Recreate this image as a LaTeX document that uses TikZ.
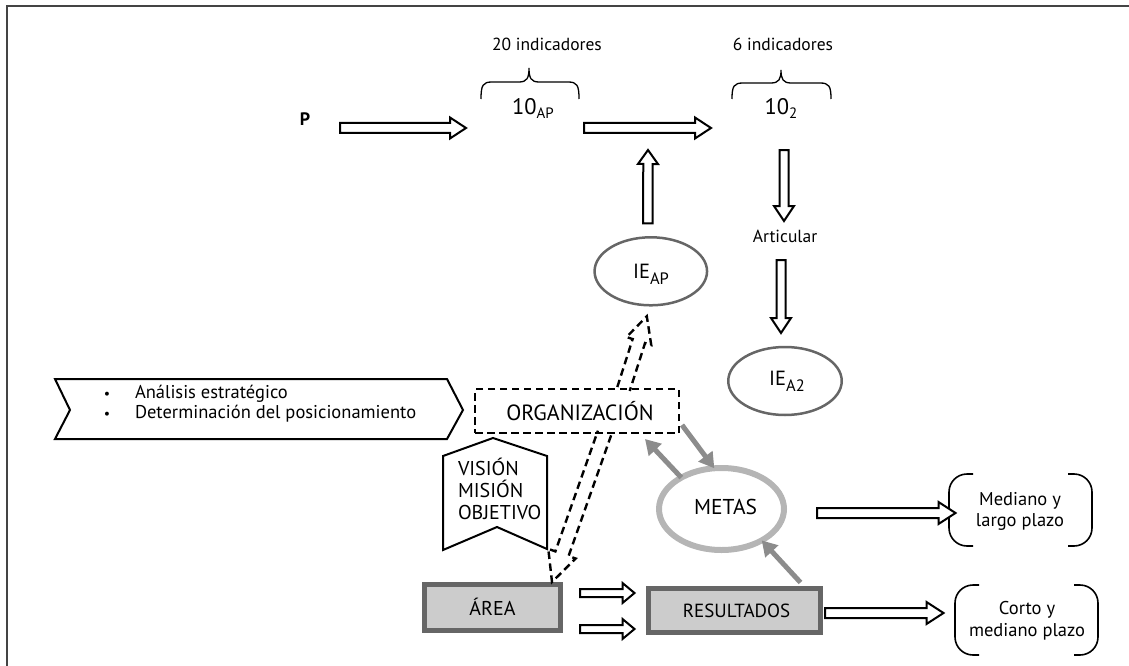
\documentclass[tikz,border=0pt]{standalone}
\usepackage{fontspec}
\setmainfont{PT Sans}
\usetikzlibrary{calc,shapes.geometric,arrows.meta}
\definecolor{framegray}{HTML}{444444}
\definecolor{ellgray}{HTML}{666666}
\definecolor{boxborder}{HTML}{666666}
\definecolor{boxfill}{HTML}{CCCCCC}
\definecolor{arrgray}{HTML}{8C8C8C}
\definecolor{metasgray}{HTML}{B5B5B5}
\newcommand\fs[1]{\fontsize{#1}{#1}\selectfont}
\newcommand\lowsub[3]{\raisebox{-#1pt}{\fontsize{#2}{#2}\selectfont #3}}
% #1 style, #2 start, #3 tip, #4 shaft half width, #5 head half width, #6 head length
\newcommand\arrowpath[6]{%
  \coordinate (hb) at ($(#3)!#6!(#2)$);
  \path[#1] ($(#2)!#4!90:(#3)$) -- ($(hb)!#4!90:(#3)$) -- ($(hb)!#5!90:(#3)$) -- (#3)
    -- ($(hb)!#5!-90:(#3)$) -- ($(hb)!#4!-90:(#3)$) -- ($(#2)!#4!-90:(#3)$)}
\newcommand\blockarrow[6]{\arrowpath{#1}{#2}{#3}{#4}{#5}{#6} -- cycle;}
\newcommand\openarrow[6]{\arrowpath{#1}{#2}{#3}{#4}{#5}{#6};}
\newcommand\brackets[1]{%
  \draw[brk] ([xshift=24pt]#1.north west) -- (#1.north west) -- (#1.south west) -- ([xshift=24pt]#1.south west);
  \draw[brk] ([xshift=-24pt]#1.north east) -- (#1.north east) -- (#1.south east) -- ([xshift=-24pt]#1.south east);}
\begin{document}
\begin{tikzpicture}[x=1pt,y=-1pt,
  every node/.style={inner sep=0pt, outer sep=0pt},
  txt/.style={anchor=base},
  blk/.style={draw=black, line width=2pt, fill=white},
  dsh/.style={draw=black, line width=2.4pt, dash pattern=on 7.5pt off 4.5pt},
  ell/.style={ellipse, draw=ellgray, line width=2.5pt},
  gbox/.style={rectangle, draw=boxborder, fill=boxfill, line width=5pt},
  garr/.style={draw=arrgray, line width=5pt, -{Triangle[width=17pt,length=15pt]}},
  brk/.style={line width=1.6pt, rounded corners=18pt},
  brace/.style={line width=1.3pt}]
\useasboundingbox (0,0) rectangle (1129,666);
% frame
\draw[line width=2pt, framegray] (6.5,666) -- (6.5,6) -- (1129,6);

% top row
\node[txt, font=\bfseries\fs{18}] (P) at (305,125) {P};
\node[txt, font=\fs{17.5}] (ind1) at (547,51) {20 indicadores};
\node[txt, font=\fs{22.5}] (ten1) at (533,115) {10\lowsub{3.5}{15}{AP}};
\node[txt, font=\fs{17.5}] (ind2) at (783,51) {6 indicadores};
\node[txt, font=\fs{22.5}] (ten2) at (781,115) {10\lowsub{4}{15}{2}};
\draw[brace] (481,99) .. controls (481,85) and (483,82) .. (492,82) -- (519,82)
  .. controls (527,82) and (529,78) .. (529,68) .. controls (529,78) and (531,82) .. (539,82)
  -- (568,82) .. controls (577,82) and (579,85) .. (579,99);
\draw[brace] (732,99) .. controls (732,86) and (734,83) .. (743,83) -- (771,83)
  .. controls (779,83) and (781,79) .. (781,70) .. controls (781,79) and (783,83) .. (791,83)
  -- (820,83) .. controls (829,83) and (831,86) .. (831,99);

\coordinate (a1s) at (340,128);
\coordinate (a1e) at (466,128);
\blockarrow{blk}{a1s}{a1e}{5pt}{10.5pt}{16pt}
\coordinate (a2s) at (584,128);
\coordinate (a2e) at (711,128);
\blockarrow{blk}{a2s}{a2e}{5pt}{10.5pt}{16pt}

% IE_AP
\node[ell, minimum width=112.5pt, minimum height=68pt] (ieap) at (650.8,271.3) {};
\node[txt, font=\fs{20.5}] (ieapt) at (651,278) {IE\lowsub{6}{16.5}{AP}};
\coordinate (u1s) at ($(ieap.north)+(-3,-14)$);
\coordinate (u1e) at (648,150);
\blockarrow{blk}{u1s}{u1e}{4.7pt}{10pt}{14pt}

% right column
\coordinate (d1s) at (784,150);
\coordinate (d1e) at (784,221);
\blockarrow{blk}{d1s}{d1e}{4.5pt}{10pt}{15pt}
\node[txt, font=\fs{17.5}] (art) at (785,242.5) {Articular};
\coordinate (d2s) at (781,260);
\coordinate (d2e) at (781,333);
\blockarrow{blk}{d2s}{d2e}{4.5pt}{10pt}{15pt}
\node[ell, minimum width=113.5pt, minimum height=68pt] (iea2) at (785,381) {};
\node[txt, font=\fs{20.5}] (iea2t) at (787,385) {IE\lowsub{6}{16.5}{A2}};

% chevron with bullets
\draw[line width=2pt] (55,379) -- (447,379) -- (463,410) -- (447,439) -- (55,439) -- (70,410) -- cycle;
\node[txt, font=\fs{14}] (b1) at (107,398.5) {•};
\node[txt, font=\fs{14}] (b2) at (107,418) {•};
\node[anchor=base west, font=\fs{18.5}] (l1) at (135,398.5) {Análisis estratégico};
\node[anchor=base west, font=\fs{18.5}] (l2) at (135,418) {Determinación del posicionamiento};

% organizacion
\node[dsh, rectangle, minimum width=204pt, minimum height=44pt] (org) at (577,411) {};
\node[txt, font=\fs{22}] (orgt) at (580,420) {ORGANIZACIÓN};

% vision pentagon
\draw[line width=2pt, fill=white] (443,456) -- (493,438) -- (547,456) -- (547,549) -- (497,527) -- (443,550) -- cycle;
\node[anchor=base west, font=\fs{20}] (vis) at (458,475) {VISIÓN};
\node[anchor=base west, font=\fs{20}] (mis) at (458,497) {MISIÓN};
\node[anchor=base west, font=\fs{20}] (obj) at (458,519) {OBJETIVO};

% metas
\node[ellipse, draw=metasgray, line width=6pt, minimum width=125pt, minimum height=82pt] (metas) at (721.5,509) {};
\node[txt, font=\fs{21.5}] (metast) at (725.5,514) {METAS};

% boxes
\node[gbox, minimum width=136pt, minimum height=46pt] (area) at (492.5,607.5) {};
\node[txt, font=\fs{20}] (areat) at (492.5,615) {ÁREA};
\node[gbox, minimum width=172pt, minimum height=44pt] (res) at (734.5,610.5) {};
\node[txt, font=\fs{19}] (rest) at (736.5,617) {RESULTADOS};

% bracket boxes
\node[minimum width=143pt, minimum height=72pt] (med) at (1020.5,510) {};
\node[txt, font=\fs{18.5}] (medt1) at (1020,505) {Mediano y};
\node[txt, font=\fs{18.5}] (medt2) at (1020,526) {largo plazo};
\brackets{med}
\node[minimum width=143pt, minimum height=70pt] (cor) at (1026.5,620) {};
\node[txt, font=\fs{18.5}] (cort1) at (1027,614) {Corto y};
\node[txt, font=\fs{18.5}] (cort2) at (1027,636.5) {mediano plazo};
\brackets{cor}

% black arrows bottom
\coordinate (s1s) at ($(area.east)+(19.5,-14.5)$);
\coordinate (s1e) at ($(res.west)+(-14,-17.5)$);
\blockarrow{blk}{s1s}{s1e}{4pt}{10pt}{12pt}
\coordinate (s2s) at ($(area.east)+(19.5,21.5)$);
\coordinate (s2e) at ($(res.west)+(-14,18.5)$);
\blockarrow{blk}{s2s}{s2e}{4pt}{10pt}{12pt}
\coordinate (m1s) at (817,513);
\coordinate (m1e) at ($(med.west)+(6.5,3)$);
\blockarrow{blk}{m1s}{m1e}{5pt}{11pt}{17pt}
\coordinate (r1s) at ($(res.east)+(4.5,2.5)$);
\coordinate (r1e) at ($(cor.west)+(-11.5,-7)$);
\blockarrow{blk}{r1s}{r1e}{5pt}{11pt}{17pt}

% gray arrows
\coordinate (g1s) at ($(org.south east)+(3,-8)$);
\draw[garr] (g1s) -- (metas.100);
\coordinate (g2e) at ($(org.south east)+(-34,6)$);
\draw[garr] (metas.142) -- (g2e);
\coordinate (g3s) at ($(res.north east)+(-20,-6)$);
\draw[garr] (g3s) -- (metas.322);

% dashed hollow arrows
\coordinate (h1s) at ($(org.north)+(46.5,0)$);
\coordinate (h1e) at ($(ieap.south)+(-4,11)$);
\openarrow{dsh}{h1s}{h1e}{6.5pt}{13pt}{26pt}
\coordinate (h2s) at ($(org.south)+(27.5,0)$);
\coordinate (h2e) at ($(area.north)+(59.5,-2.5)$);
\openarrow{dsh}{h2s}{h2e}{7pt}{14.5pt}{30pt}
\end{tikzpicture}
\end{document}
